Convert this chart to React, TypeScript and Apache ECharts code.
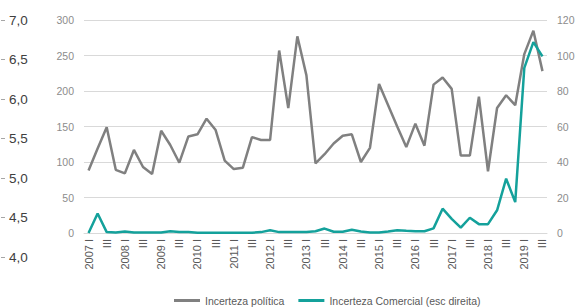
import React, { useEffect, useRef } from "react";
import * as echarts from "echarts";

const years = [2007, 2008, 2009, 2010, 2011, 2012, 2013, 2014, 2015, 2016, 2017, 2018, 2019];
const quarterNames = ["I", "II", "III", "IV"];
const categories: string[] = [];
years.forEach((y) => quarterNames.forEach((q, qi) => categories.push(qi === 0 ? `${y} ${q}` : q)));
categories.splice(51);

const politica = [
  88, 119, 149, 89, 84, 117, 93, 83, 144, 124, 99, 136, 139, 161, 145, 102, 90, 92,
  135, 131, 131, 257, 176, 277, 222, 98, 111, 126, 137, 139, 100, 120,
  210, 180, 150, 121, 154, 123, 209, 219, 203, 109, 109, 192, 87, 176, 194, 180, 252, 285, 228,
];
const comercial = [
  0, 11, 0.5, 0.3, 0.8, 0.3, 0.3, 0.3, 0.3, 1, 0.5, 0.5, 0.2, 0.2, 0.2, 0.2, 0.2, 0.2,
  0.2, 0.5, 1.5, 0.5, 0.5, 0.5, 0.5, 1, 2.5, 0.7, 0.7, 1.8, 0.8, 0.3,
  0.3, 0.8, 1.5, 1.2, 1, 1, 2.6, 13.7, 8, 3, 8.6, 5, 5, 12.8, 30.6, 17.4, 93, 107.5, 99.5,
];
const seriesNames = ["Incerteza política", "Incerteza Comercial (esc direita)"];

const NARROW = "'Liberation Sans Narrow', 'Liberation Sans', sans-serif";

export default function App() {
  const ref = useRef<HTMLDivElement>(null);
  useEffect(() => {
    if (!ref.current) return;
    const chart = echarts.init(ref.current, null, { renderer: "svg" });
    chart.setOption({
      animation: false,
      backgroundColor: "#ffffff",
      grid: [
        { left: 84, right: 29, top: 20, bottom: 74, outerBoundsMode: "none", containLabel: false },
        { left: 0, width: 1, top: 20, height: 237, outerBoundsMode: "none", containLabel: false },
      ],
      legend: {
        top: 295,
        left: 174,
        icon: "rect",
        itemWidth: 26,
        itemHeight: 3,
        itemGap: 14,
        padding: 0,
        textStyle: { fontFamily: NARROW, fontSize: 10.5, color: "#595959" },
        data: seriesNames,
      },
      xAxis: [
        {
          type: "category",
          gridIndex: 0,
          data: categories,
          boundaryGap: true,
          axisLine: { lineStyle: { color: "#d9d9d9" } },
          axisTick: { show: false },
          axisLabel: {
            interval: 1,
            rotate: 90,
            margin: 6,
            fontFamily: NARROW,
            fontSize: 11,
            color: "#595959",
          },
        },
        { type: "category", gridIndex: 1, show: false, data: ["a"] },
      ],
      yAxis: [
        {
          type: "value",
          gridIndex: 0,
          min: 0,
          max: 300,
          interval: 50,
          position: "left",
          axisLine: { show: false },
          axisTick: { show: false },
          splitLine: { lineStyle: { color: "#d9d9d9", width: 1 } },
          axisLabel: { fontFamily: NARROW, fontSize: 10.5, color: "#8c8c8c", margin: 10 },
        },
        {
          type: "value",
          gridIndex: 0,
          min: 0,
          max: 120,
          interval: 20,
          position: "right",
          axisLine: { show: false },
          axisTick: { show: false },
          splitLine: { show: false },
          axisLabel: { fontFamily: NARROW, fontSize: 10.5, color: "#8c8c8c", margin: 10 },
        },
        {
          type: "value",
          gridIndex: 1,
          min: 4,
          max: 7,
          interval: 0.5,
          position: "right",
          axisLine: { show: false },
          axisTick: { show: true, length: 4, lineStyle: { color: "#a6a6a6" } },
          splitLine: { show: false },
          axisLabel: {
            fontFamily: "'Liberation Sans', sans-serif",
            fontSize: 13.5,
            color: "#404040",
            margin: 8,
            formatter: (v: number) => v.toFixed(1).replace(".", ","),
          },
        },
      ],
      series: [
        {
          name: seriesNames[0],
          type: "line",
          xAxisIndex: 0,
          yAxisIndex: 0,
          data: politica,
          showSymbol: false,
          symbol: "none",
          lineStyle: { color: "#808080", width: 2.5 },
          itemStyle: { color: "#808080" },
        },
        {
          name: seriesNames[1],
          type: "line",
          xAxisIndex: 0,
          yAxisIndex: 1,
          data: comercial,
          showSymbol: false,
          symbol: "none",
          lineStyle: { color: "#14a19b", width: 2.5 },
          itemStyle: { color: "#14a19b" },
        },
      ],
    });
    return () => chart.dispose();
  }, []);
  return (
    <div
      ref={ref}
      style={{ position: "fixed", left: 0, top: 0, width: 576, height: 307 }}
    />
  );
}
